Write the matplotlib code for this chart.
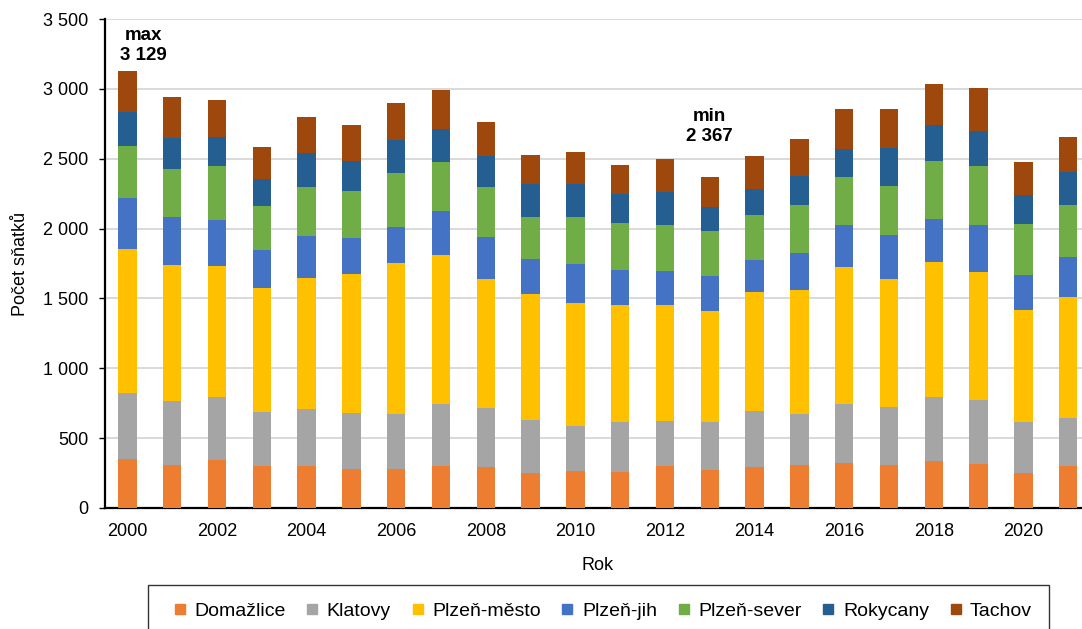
import matplotlib.pyplot as plt
import numpy as np
from matplotlib.ticker import FuncFormatter, MultipleLocator
from matplotlib.lines import Line2D

plt.rcParams['font.family'] = ['Liberation Sans', 'DejaVu Sans']

# --- data ---
years = list(range(2000, 2022))
districts = ["Domažlice", "Klatovy", "Plzeň-město", "Plzeň-jih",
             "Plzeň-sever", "Rokycany", "Tachov"]
colors = ["#ED7D31", "#A5A5A5", "#FFC000", "#4472C4",
          "#70AD47", "#255E91", "#9E480E"]

domazlice = [351, 306, 344, 301, 301, 277, 277, 301, 292, 251, 263,
             256, 299, 272, 294, 306, 323, 308, 337, 313, 251, 299]
klatovy = [471, 461, 452, 385, 406, 402, 395, 445, 423, 378, 323,
           361, 325, 345, 399, 368, 423, 414, 459, 461, 361, 344]
plzen_mesto = [1030, 975, 934, 887, 940, 994, 1080, 1063, 922, 901, 884,
               834, 827, 791, 853, 889, 977, 915, 965, 913, 808, 865]
plzen_jih = [368, 342, 333, 274, 303, 261, 260, 316, 301, 255, 279,
             255, 246, 253, 232, 263, 299, 316, 311, 340, 248, 289]
plzen_sever = [373, 342, 382, 314, 349, 334, 383, 353, 361, 301, 333,
               333, 330, 320, 318, 342, 344, 353, 414, 418, 364, 371]
rokycany = [244, 225, 213, 191, 239, 213, 241, 237, 222, 235, 234,
            205, 232, 172, 189, 210, 201, 268, 255, 251, 205, 234]
tachov = [292, 289, 263, 234, 261, 263, 261, 277, 242, 208, 229,
          211, 241, 214, 234, 261, 291, 284, 294, 311, 241, 253]

series = [domazlice, klatovy, plzen_mesto, plzen_jih,
          plzen_sever, rokycany, tachov]

FS = 13

# --- graf ---
fig = plt.figure(figsize=(10.82, 6.29), dpi=100)
ax = fig.add_axes([105/1082, 1 - 508/629, 985.6/1082, 489/629])

bottom = np.zeros(len(years))
for vals, col, name in zip(series, colors, districts):
    ax.bar(years, vals, bottom=bottom, width=0.41, color=col, label=name, zorder=3)
    bottom += np.array(vals)

totals = bottom
imax = int(np.argmax(totals))
imin = int(np.argmin(totals))

def fmt(v):
    return f"{int(round(v)):,}".replace(",", " ")

ax.text(years[imax] + 0.35, 3180, "max\n" + fmt(totals[imax]), ha="center", va="bottom",
        fontsize=13.5, fontweight="bold", linespacing=1.2)
ax.text(years[imin], 2600, "min\n" + fmt(totals[imin]), ha="center", va="bottom",
        fontsize=13.5, fontweight="bold", linespacing=1.2)

ax.set_xlim(1999.5, 2021.5)
ax.set_ylim(0, 3500)
ax.yaxis.set_major_locator(MultipleLocator(500))
ax.yaxis.set_major_formatter(FuncFormatter(lambda v, p: fmt(v)))
ax.set_xticks(years[::2])
ax.grid(axis="y", color="#d9d9d9", linewidth=1.4, zorder=0)

for s in ["top", "right"]:
    ax.spines[s].set_visible(False)
ax.spines["left"].set_linewidth(1.6)
ax.spines["bottom"].set_linewidth(1.6)
ax.tick_params(axis="x", length=0, pad=11, labelsize=FS)
ax.tick_params(axis="y", length=4, width=1, pad=8, labelsize=FS)

ax.set_ylabel("Počet sňatků", fontsize=FS, labelpad=10)
ax.set_xlabel("Rok", fontsize=FS, labelpad=12)

# legenda - malé čtverečky
handles = [Line2D([], [], linestyle="none", marker="s", markersize=6.5,
                  markerfacecolor=c, markeredgecolor=c, label=n)
           for c, n in zip(colors, districts)]
leg = fig.legend(handles=handles, loc="upper left", bbox_to_anchor=(148/1082, 1 - 585/629),
                 ncol=7, frameon=True, fancybox=False, edgecolor="black", fontsize=14,
                 handlelength=1.5, handletextpad=0.0,
                 columnspacing=0.62, borderpad=0.88, borderaxespad=0)
leg.get_frame().set_linewidth(1.0)

fig.savefig("out.png", dpi=100)
